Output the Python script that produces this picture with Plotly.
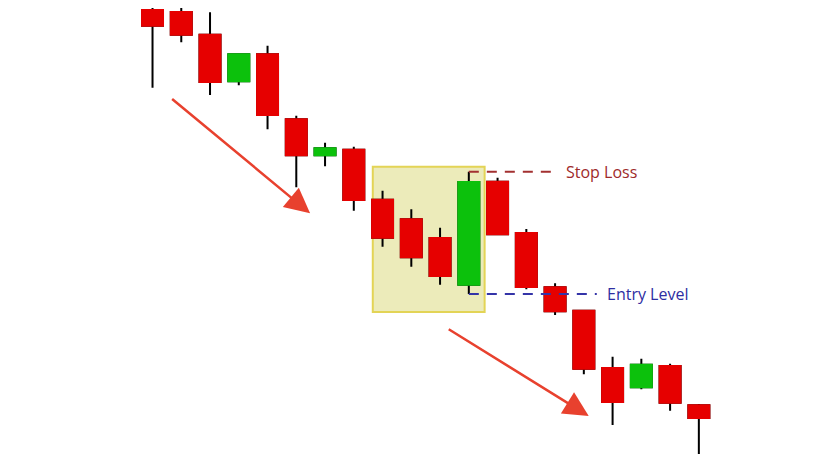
import numpy as np
import plotly.graph_objects as go

# candle index and OHLC values (arbitrary price units)
candle_idx = list(range(1, 21))
open_ = [463.0, 461.0, 438.3, 391.7, 418.7, 353.7, 317.7, 323.3, 273.3, 253.7,
         235.0, 188.3, 291.3, 240.0, 185.7, 162.3, 105.0, 85.7, 107.0, 67.7]
close = [447.3, 438.3, 391.0, 418.7, 358.0, 317.7, 324.7, 273.0, 235.3, 215.7,
         197.0, 291.0, 238.7, 186.0, 161.7, 104.3, 71.0, 108.3, 70.3, 55.0]
high = [467.0, 469.0, 460.7, 418.7, 427.3, 357.3, 330.3, 326.3, 282.3, 263.7,
        245.3, 301.3, 295.3, 244.0, 189.7, 163.0, 116.3, 114.3, 109.3, 69.0]
low = [385.3, 430.7, 378.0, 387.7, 343.7, 285.7, 306.7, 262.3, 226.3, 206.3,
       188.3, 179.0, 238.7, 183.7, 158.0, 98.7, 48.0, 83.7, 62.3, 19.0]

# highlighted pattern (candles 9..12) and the signal candle
box_first, box_last = 9, 12
signal = 12

# arrows: (x_start, y_start, x_tip, y_tip) in axis units
arrows = [(1.63, 375.3, 6.48, 259.7), (11.25, 144.7, 16.17, 57.0)]

RED = "#e60000"
GREEN = "#0cc10c"

o = np.array(open_)
c = np.array(close)
body_hi = np.maximum(o, c)
body_lo = np.minimum(o, c)

fig = go.Figure()

# wicks (black)
fig.add_trace(go.Candlestick(
    x=candle_idx, open=open_, high=high, low=low, close=close,
    increasing=dict(line=dict(color="black", width=2), fillcolor="black"),
    decreasing=dict(line=dict(color="black", width=2), fillcolor="black"),
    whiskerwidth=0, hoverinfo="skip", showlegend=False,
))
# bodies on top
fig.add_trace(go.Candlestick(
    x=candle_idx, open=open_, high=body_hi, low=body_lo, close=close,
    increasing=dict(line=dict(color=GREEN, width=2), fillcolor=GREEN),
    decreasing=dict(line=dict(color=RED, width=2), fillcolor=RED),
    whiskerwidth=0, showlegend=False,
))

si = signal - 1
box_top = high[si] + 5
box_bot = min(low[box_first - 1:box_last]) - 18

fig.add_shape(type="rect", x0=box_first - 0.34, x1=box_last + 0.55,
              y0=box_bot, y1=box_top, layer="below",
              fillcolor="#ecebba", line=dict(color="#e3d456", width=2))

# stop loss / entry level lines
fig.add_shape(type="line", x0=signal, x1=signal + 3.05, y0=high[si], y1=high[si],
              line=dict(color="#a33030", width=2, dash="10px,8px"))
fig.add_shape(type="line", x0=signal, x1=signal + 4.45, y0=low[si], y1=low[si],
              line=dict(color="#3434a8", width=2, dash="10px,8px"))

fig.add_annotation(x=signal + 3.3, y=high[si], text="Stop Loss", showarrow=False,
                   xanchor="left", yanchor="middle",
                   font=dict(family="Open Sans", size=16, color="#9e2a2a"))
fig.add_annotation(x=signal + 4.72, y=low[si], text="Entry Level", showarrow=False,
                   xanchor="left", yanchor="middle",
                   font=dict(family="Open Sans", size=16, color="#2e2ea2"))

for x0, y0, x1, y1 in arrows:
    fig.add_annotation(x=x1, y=y1, ax=x0, ay=y0, axref="x", ayref="y",
                       xref="x", yref="y", text="", showarrow=True,
                       arrowhead=2, arrowsize=2.0, arrowwidth=2.5,
                       arrowcolor="#e8412e")

# the page body has an 8px margin, so ranges are shifted to compensate
fig.update_layout(
    width=840, height=473,
    margin=dict(l=0, r=0, t=0, b=0),
    paper_bgcolor="white", plot_bgcolor="white",
    boxgap=0.27, boxgroupgap=0,
    xaxis=dict(range=[-4.026, 25.187], visible=False, rangeslider=dict(visible=False)),
    yaxis=dict(range=[-8, 465], visible=False),
    showlegend=False,
)

fig.write_html("out.html")
